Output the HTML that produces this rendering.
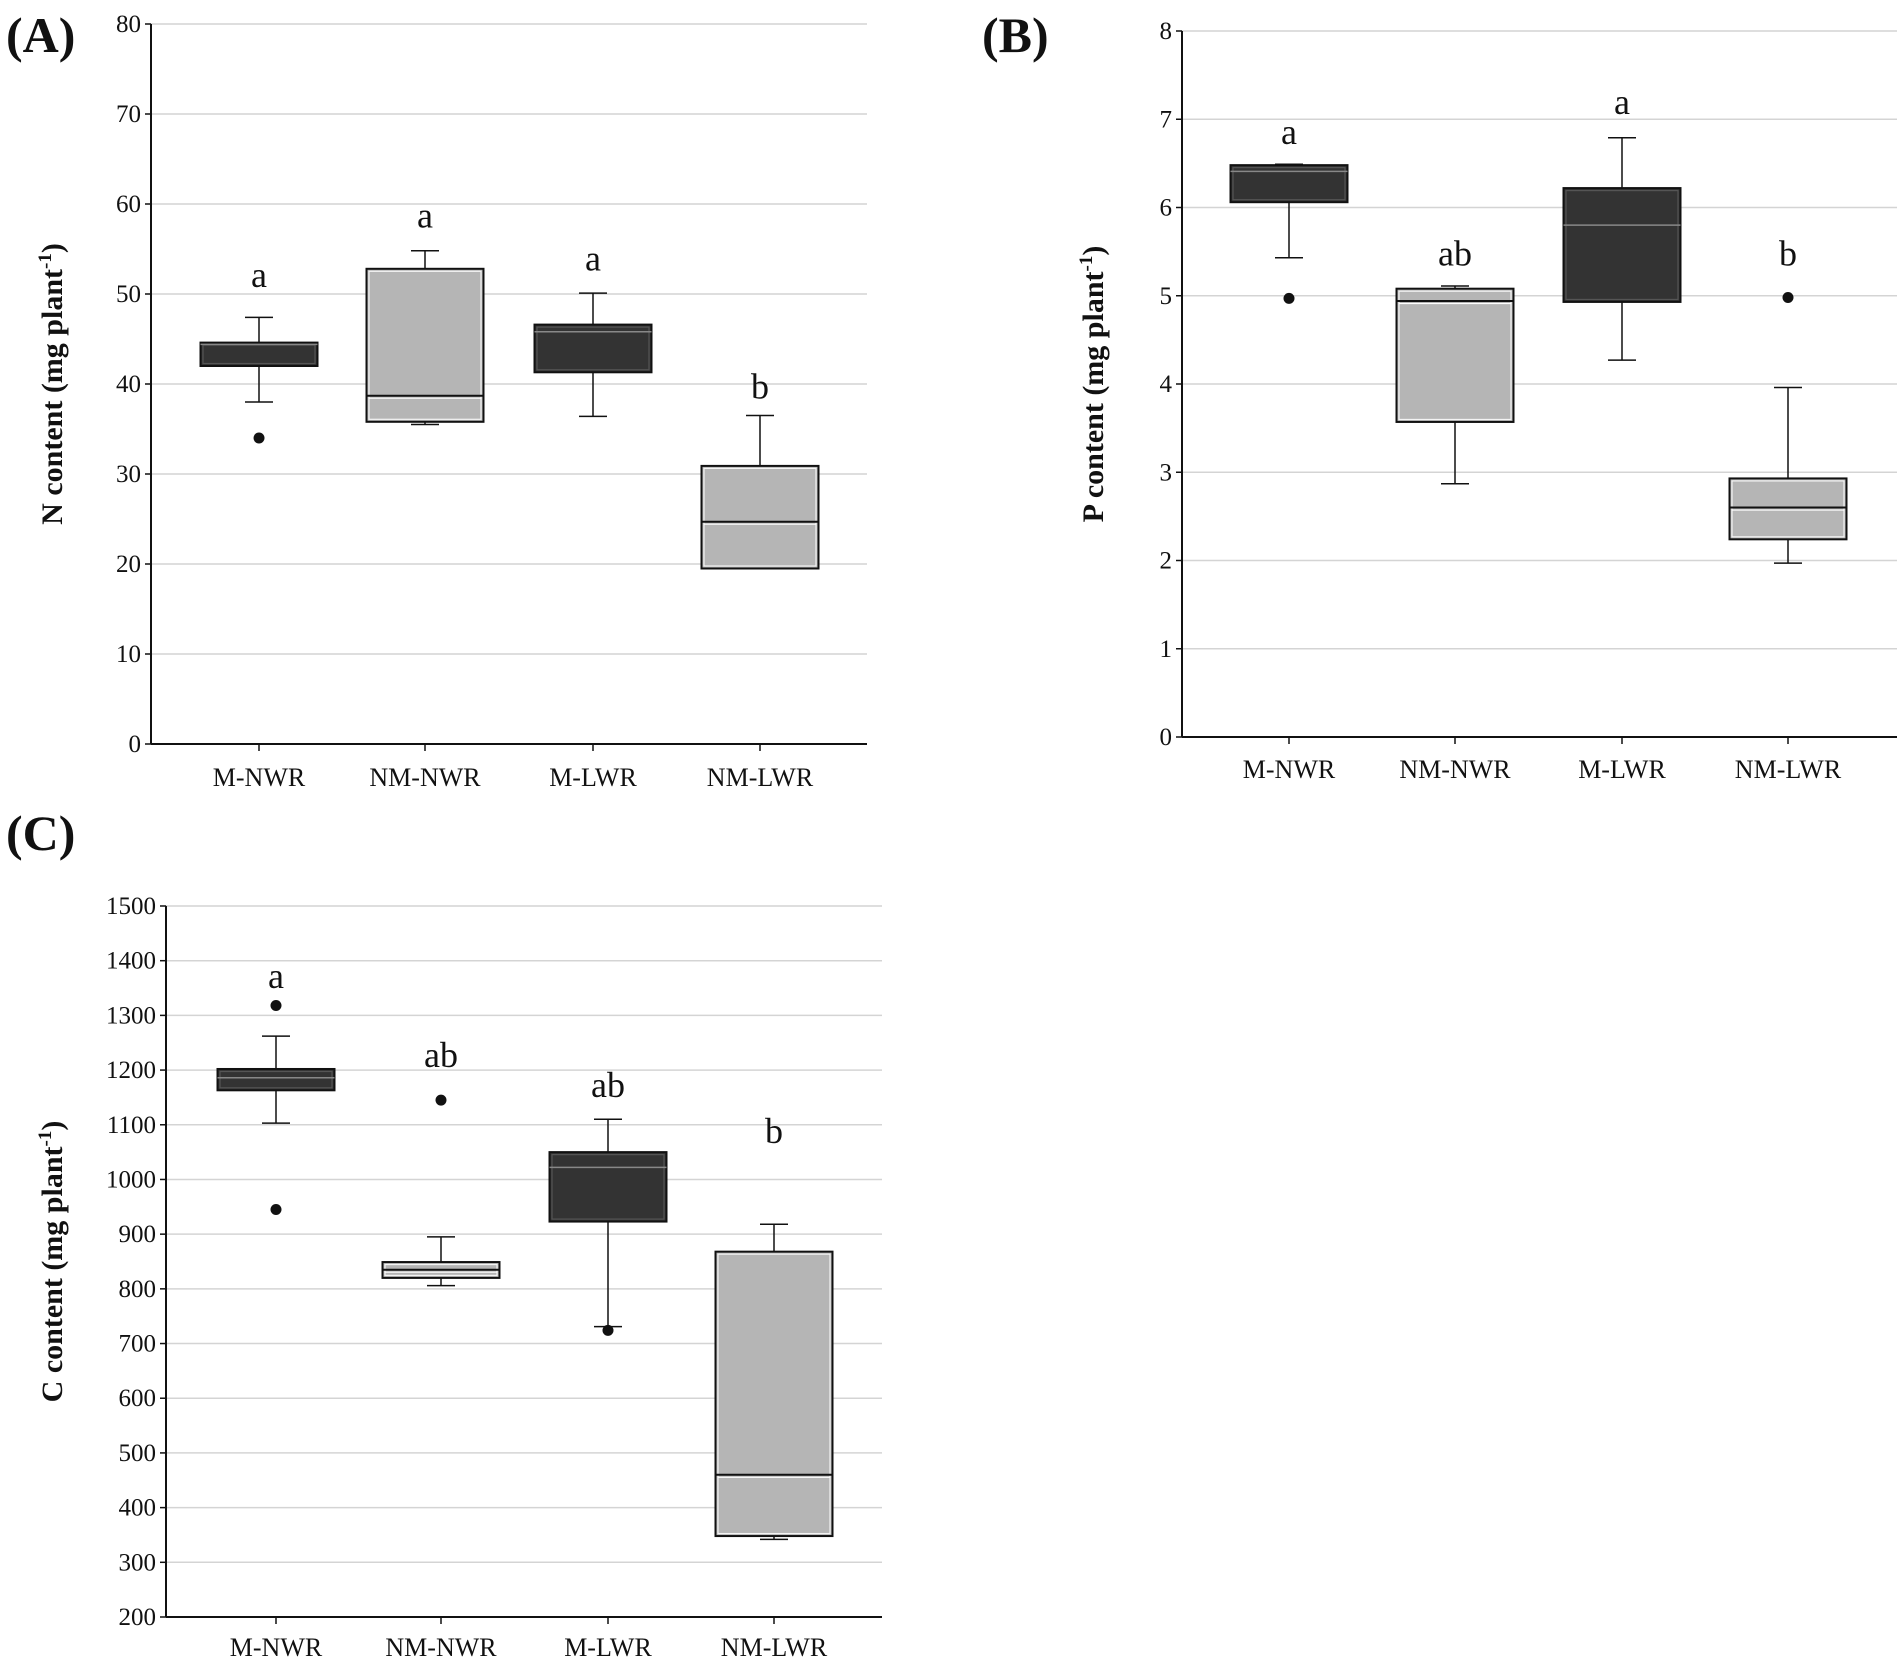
<!DOCTYPE html>
<html><head><meta charset="utf-8"><style>
html,body{margin:0;padding:0;background:#fff;}
svg{display:block;font-family:"Liberation Serif",serif;}
</style></head><body>
<svg id="fig" width="1902" height="1662" viewBox="0 0 1902 1662"></svg>
<script>
const categories = ["M-NWR","NM-NWR","M-LWR","NM-LWR"];
const dark = [true,false,true,false];
// Panel A (N content)
const aTicks = [0,10,20,30,40,50,60,70,80];
const aWhiskLow = [38,35.5,36.4,19.5];
const aQ1 = [42,35.8,41.3,19.5];
const aMedian = [44.4,38.7,45.8,24.7];
const aQ3 = [44.6,52.8,46.6,30.9];
const aWhiskHigh = [47.4,54.8,50.1,36.5];
const aOutliers = [[34],[],[],[]];
const aLetters = ["a","a","a","b"];
const aLetterY = [50.8,57.4,52.6,38.4];
// Panel B (P content)
const bTicks = [0,1,2,3,4,5,6,7,8];
const bWhiskLow = [5.43,2.87,4.27,1.97];
const bQ1 = [6.06,3.57,4.93,2.24];
const bMedian = [6.41,4.94,5.8,2.6];
const bQ3 = [6.48,5.08,6.22,2.93];
const bWhiskHigh = [6.49,5.11,6.79,3.96];
const bOutliers = [[4.97],[],[],[4.98]];
const bLetters = ["a","ab","a","b"];
const bLetterY = [6.72,5.34,7.06,5.34];
// Panel C (C content)
const cTicks = [200,300,400,500,600,700,800,900,1000,1100,1200,1300,1400,1500];
const cWhiskLow = [1103,806,731,342];
const cQ1 = [1163,820,923,348];
const cMedian = [1186,835,1022,460];
const cQ3 = [1202,849,1050,868];
const cWhiskHigh = [1262,895,1110,918];
const cOutliers = [[1318,945],[1145],[724],[]];
const cLetters = ["a","ab","ab","b"];
const cLetterY = [1350,1206,1151,1067];

const NS="http://www.w3.org/2000/svg";
const svg=document.getElementById('fig');
function mk(tag,attrs,parent){const e=document.createElementNS(NS,tag);for(const k in attrs)e.setAttribute(k,attrs[k]);(parent||svg).appendChild(e);return e;}

function panel(cfg){
  const g=mk('g',{});
  
  
  const y=v=>cfg.y0+(v-cfg.ticks[0])/(cfg.ticks[cfg.ticks.length-1]-cfg.ticks[0])*(cfg.y1-cfg.y0);
  const x=i=>cfg.xs[i];
  cfg.ticks.forEach(t=>{
    if(t!==cfg.ticks[0]){
      const gl=mk('line',{x1:cfg.ax,x2:cfg.right,y1:y(t),y2:y(t),stroke:'#d4d4d4','stroke-width':1.5},g);
      
      
    }
    mk('line',{x1:cfg.ax-6,x2:cfg.ax,y1:y(t),y2:y(t),stroke:'#111','stroke-width':1.5},g);
    const tl=mk('text',{x:cfg.ax-10,y:y(t)+8,'text-anchor':'end','font-size':25,fill:'#111'},g);
    tl.textContent=t;
    
    
  });
  const ya=mk('line',{x1:cfg.ax,x2:cfg.ax,y1:cfg.y1,y2:cfg.y0,stroke:'#111','stroke-width':2},g);
  
  
  const xa=mk('line',{x1:cfg.ax,x2:cfg.right,y1:cfg.y0,y2:cfg.y0,stroke:'#111','stroke-width':2},g);
  
  
  const tt=mk('text',{x:0,y:0,'text-anchor':'middle','font-size':30,'font-weight':'bold',fill:'#111',transform:`translate(${cfg.titleX},${(cfg.y0+cfg.y1)/2}) rotate(-90)`},g);
  tt.innerHTML=cfg.title+' content (mg plant<tspan dy="-11" font-size="19">-1</tspan><tspan dy="11">)</tspan>';
  
  
  const pl=mk('text',{x:cfg.lx,y:cfg.ly,'font-size':50,'font-weight':'bold',fill:'#111'},g);
  pl.textContent='('+cfg.id.toUpperCase()+')';
  
  
  const hw=58.5, cw=14;
  categories.forEach((c,i)=>{
    const cx=x(i);
    mk('line',{x1:cx,x2:cx,y1:cfg.y0,y2:cfg.y0+7,stroke:'#111','stroke-width':1.5},g);
    const cl=mk('text',{x:cx,y:cfg.labY,'text-anchor':'middle','font-size':26,fill:'#111'},g);
    cl.textContent=c;
    
    
    const bg=mk('g',{},g);
    
    
    mk('line',{x1:cx,x2:cx,y1:y(cfg.wl[i]),y2:y(cfg.q1[i]),stroke:'#111','stroke-width':1.5},bg);
    mk('line',{x1:cx,x2:cx,y1:y(cfg.q3[i]),y2:y(cfg.wh[i]),stroke:'#111','stroke-width':1.5},bg);
    mk('line',{x1:cx-cw,x2:cx+cw,y1:y(cfg.wl[i]),y2:y(cfg.wl[i]),stroke:'#111','stroke-width':1.5},bg);
    mk('line',{x1:cx-cw,x2:cx+cw,y1:y(cfg.wh[i]),y2:y(cfg.wh[i]),stroke:'#111','stroke-width':1.5},bg);
    const top=y(cfg.q3[i]), bot=y(cfg.q1[i]);
    const d=dark[i];
    mk('rect',{x:cx-hw,y:top,width:2*hw,height:bot-top,fill:d?'#333':'#b5b5b5',stroke:'#111','stroke-width':2},bg);
    if(bot-top>5) mk('rect',{x:cx-hw+2.5,y:top+2.5,width:2*hw-5,height:bot-top-5,fill:'none',stroke:d?'#555':'#f4f4f4','stroke-width':1.2},bg);
    const my=y(cfg.med[i]);
    mk('line',{x1:cx-hw,x2:cx+hw,y1:my,y2:my,stroke:d?'#888':'#111','stroke-width':d?1.5:2},bg);
    if(!d){mk('line',{x1:cx-hw+2,x2:cx+hw-2,y1:my+2.5,y2:my+2.5,stroke:'#fff','stroke-width':1.2},bg);}
    cfg.out[i].forEach(v=>{
      const o=mk('circle',{cx:cx,cy:y(v),r:5.5,fill:'#111'},bg);
      
      
    });
    const lt=mk('text',{x:cx,y:y(cfg.ly2[i]),'text-anchor':'middle','font-size':36,fill:'#111'},g);
    lt.textContent=cfg.letters[i];
    
    
  });
}
panel({id:'a',ticks:aTicks,y0:744,y1:24,ax:151,right:867,xs:[259,425,593,760],labY:786,titleX:62,lx:6,ly:52,
  wl:aWhiskLow,q1:aQ1,med:aMedian,q3:aQ3,wh:aWhiskHigh,out:aOutliers,letters:aLetters,ly2:aLetterY,title:'N'});
panel({id:'b',ticks:bTicks,y0:737,y1:31,ax:1182,right:1897,xs:[1289,1455,1622,1788],labY:778,titleX:1103,lx:982,ly:52,
  wl:bWhiskLow,q1:bQ1,med:bMedian,q3:bQ3,wh:bWhiskHigh,out:bOutliers,letters:bLetters,ly2:bLetterY,title:'P'});
panel({id:'c',ticks:cTicks,y0:1617,y1:906,ax:166,right:882,xs:[276,441,608,774],labY:1656,titleX:62,lx:6,ly:850,
  wl:cWhiskLow,q1:cQ1,med:cMedian,q3:cQ3,wh:cWhiskHigh,out:cOutliers,letters:cLetters,ly2:cLetterY,title:'C'});
</script>
</body></html>
